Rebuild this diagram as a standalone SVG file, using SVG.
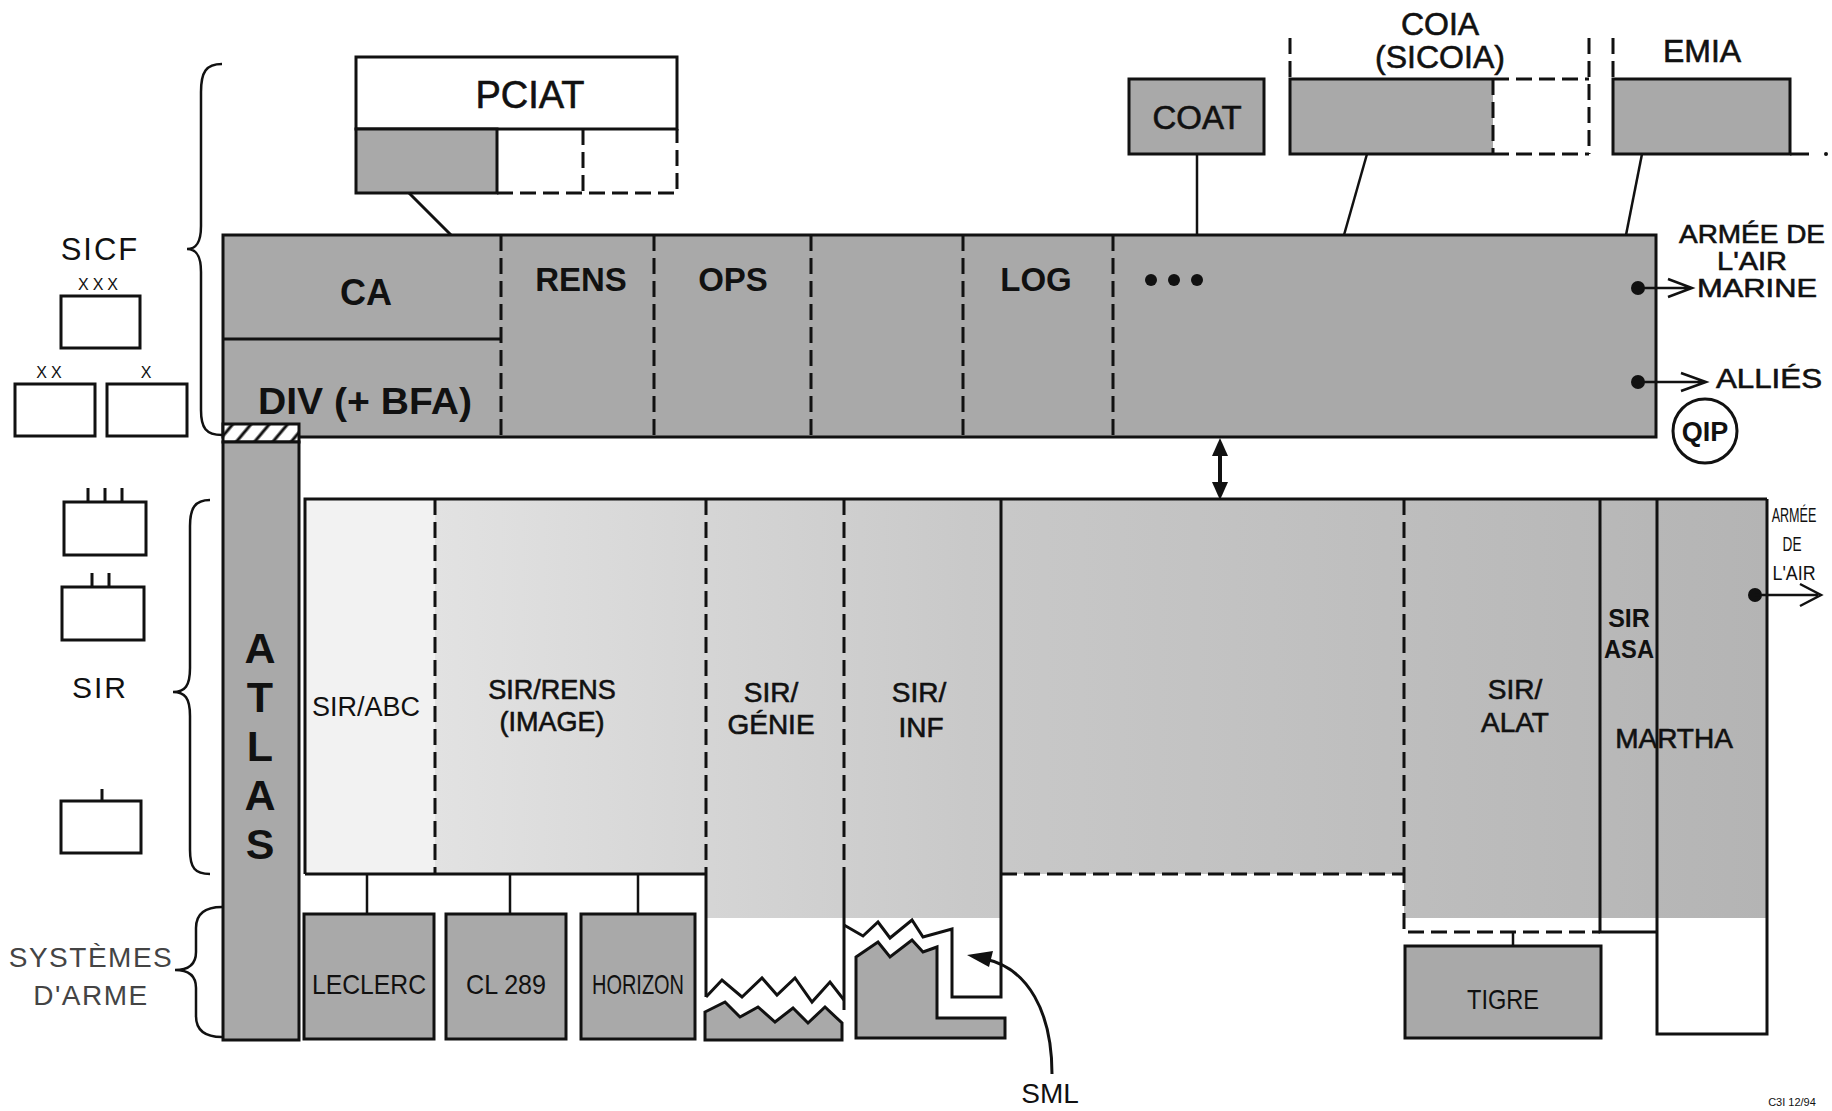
<svg xmlns="http://www.w3.org/2000/svg" width="1832" height="1111" viewBox="0 0 1832 1111">
<style>
.ln{stroke:#111;stroke-width:3;fill:none;stroke-linejoin:miter}
.lt{stroke:#111;stroke-width:2.5;fill:none}
.dl{stroke:#111;stroke-width:3;fill:none;stroke-dasharray:16 7}
.sh{fill:#a9a9a9;stroke:#111;stroke-width:3}
.shf{fill:#a9a9a9}
.t{font-family:"Liberation Sans",Arial,Helvetica,sans-serif;fill:#111;text-anchor:middle}
.b{font-weight:bold}
.m{stroke:#111;stroke-width:0.6}
.br{stroke:#111;stroke-width:2.5;fill:none}
.ic{fill:#fff;stroke:#111;stroke-width:3}
.g{fill:#444}
</style>
<defs>
<linearGradient id="sirg" x1="435" y1="0" x2="1767" y2="0" gradientUnits="userSpaceOnUse">
<stop offset="0" stop-color="#e2e2e2"/>
<stop offset="0.4" stop-color="#c9c9c9"/>
<stop offset="1" stop-color="#b4b4b4"/>
</linearGradient>
<pattern id="hatch" width="14" height="14" patternUnits="userSpaceOnUse" patternTransform="rotate(40)">
<rect width="14" height="14" fill="#fff"/>
<line x1="3" y1="0" x2="3" y2="14" stroke="#111" stroke-width="3"/>
</pattern>
</defs>
<rect width="1832" height="1111" fill="#fff"/>

<!-- Legend -->
<g id="legend-sicf">
<path class="br" d="M222,64 C206,64 201,72 201,92 L201,226 C201,243 196,249 187,249 C196,249 201,255 201,272 L201,410 C201,428 206,435 222,435"/>
<text class="t" x="100" y="260" font-size="31" letter-spacing="2">SICF</text>
<text class="t" x="100" y="290" font-size="16" letter-spacing="4">XXX</text>
<rect class="ic" x="61" y="296" width="79" height="52"/>
<text class="t" x="51" y="378" font-size="16" letter-spacing="4">XX</text>
<rect class="ic" x="15" y="384" width="80" height="52"/>
<text class="t" x="146" y="378" font-size="16">X</text>
<rect class="ic" x="107" y="384" width="80" height="52"/>
</g>
<g id="legend-sir">
<path class="br" d="M210,500 C195,500 190,508 190,526 L190,668 C190,686 185,692 173,692 C185,692 190,698 190,716 L190,850 C190,868 195,874 210,874"/>
<text class="t" x="100" y="698" font-size="30" letter-spacing="2">SIR</text>
<rect class="ic" x="64" y="502" width="82" height="53"/>
<path class="ln" d="M88,488V502M105,488V502M122,488V502"/>
<rect class="ic" x="62" y="587" width="82" height="53"/>
<path class="ln" d="M92,573V587M109,573V587"/>
<rect class="ic" x="61" y="801" width="80" height="52"/>
<path class="ln" d="M102,789V801"/>
</g>
<g id="legend-systemes">
<path class="br" d="M222,907 C208,907 196,912 196,928 L196,952 C196,965 188,970 175,970 C188,970 196,975 196,988 L196,1016 C196,1032 208,1037 222,1037"/>
<text class="t g" x="91" y="967" font-size="28" letter-spacing="1.5">SYSTÈMES</text>
<text class="t g" x="91" y="1005" font-size="28" letter-spacing="1.5">D'ARME</text>
</g>

<!-- PCIAT -->
<g id="pciat">
<rect class="ln" x="356" y="57" width="321" height="72" fill="#fff"/>
<rect class="sh" x="356" y="129" width="141" height="64"/>
<path class="dl" d="M497,193H677V129M583,129V193"/>
<text class="t m" x="530" y="108" font-size="38">PCIAT</text>
</g>

<!-- COAT -->
<g id="coat">
<rect class="sh" x="1129" y="79" width="135" height="75"/>
<text class="t m" x="1197" y="129" font-size="33">COAT</text>
</g>

<!-- COIA -->
<g id="coia">
<text class="t m" x="1440" y="35" font-size="32">COIA</text>
<text class="t m" x="1440" y="68" font-size="32">(SICOIA)</text>
<rect class="shf" x="1290" y="79" width="203" height="75"/>
<path class="ln" d="M1493,79H1290V154H1493"/>
<path class="dl" d="M1290,38V79M1493,79V154M1493,79H1589M1493,154H1589M1589,38V154"/>
</g>

<!-- EMIA -->
<g id="emia">
<text class="t m" x="1702" y="62" font-size="32">EMIA</text>
<rect class="sh" x="1613" y="79" width="177" height="75"/>
<path class="ln" d="M1790,154H1809"/>
<circle cx="1826" cy="154" r="2" fill="#111"/>
<path class="dl" d="M1613,38V79"/>
</g>

<!-- SICF main bar -->
<g id="sicf-bar">
<rect class="sh" x="223" y="235" width="1433" height="202"/>
<path class="ln" d="M223,339H501"/>
<path class="dl" d="M501,235V437M654,235V437M811,235V437M963,235V437M1113,235V437"/>
<text class="t b" x="366" y="305" font-size="36">CA</text>
<text class="t b" x="365" y="414" font-size="36" textLength="214" lengthAdjust="spacingAndGlyphs">DIV (+ BFA)</text>
<text class="t b" x="581" y="291" font-size="33">RENS</text>
<text class="t b" x="733" y="291" font-size="33">OPS</text>
<text class="t b" x="1036" y="291" font-size="33">LOG</text>
<circle cx="1151" cy="280" r="6" fill="#111"/>
<circle cx="1174" cy="280" r="6" fill="#111"/>
<circle cx="1197" cy="280" r="6" fill="#111"/>
</g>

<g id="ext-sicf">
<text class="t m" x="1752" y="243" font-size="26" textLength="146" lengthAdjust="spacingAndGlyphs">ARMÉE DE</text>
<text class="t m" x="1752" y="270" font-size="26" textLength="70" lengthAdjust="spacingAndGlyphs">L'AIR</text>
<text class="t m" x="1757" y="297" font-size="26" textLength="120" lengthAdjust="spacingAndGlyphs">MARINE</text>
<text class="t m" x="1769" y="388" font-size="28" textLength="106" lengthAdjust="spacingAndGlyphs">ALLIÉS</text>
</g>

<g id="qip">
<circle cx="1705" cy="431" r="32" fill="#fff" stroke="#111" stroke-width="3"/>
<text class="t b" x="1705" y="441" font-size="27">QIP</text>
</g>

<!-- ATLAS -->
<g id="atlas">
<rect x="223" y="424" width="76" height="18" fill="url(#hatch)" stroke="#111" stroke-width="3"/>
<rect class="sh" x="223" y="442" width="76" height="598"/>
<text class="t b" x="260" y="663" font-size="43">A</text>
<text class="t b" x="260" y="712" font-size="43">T</text>
<text class="t b" x="260" y="761" font-size="43">L</text>
<text class="t b" x="260" y="810" font-size="43">A</text>
<text class="t b" x="260" y="859" font-size="43">S</text>
</g>

<!-- SIR block -->
<g id="sir">
<rect x="305" y="499" width="130" height="375" fill="#f2f2f2"/>
<path d="M435,499H1767V918H1404V874H1001V918H706V874H435Z" fill="url(#sirg)"/>
<path class="ln" d="M305,874V499H1767M305,874H706"/>
<path class="dl" d="M435,499V874M706,499V874M844,499V874M1001,874H1404M1404,499V932H1600"/>
<path class="ln" d="M706,874V997M844,874V1010M1600,499V932H1657M1657,499V1034H1767V499"/>
<path class="ln" d="M1001,499V997H952V929L923,937L912,920L890,938L878,922L863,936L844,925"/>
<polyline class="ln" points="706,997 722,980 742,997 762,978 777,995 795,978 812,1002 830,982 844,1000"/>
<polygon class="sh" points="705,1012 725,1002 740,1017 758,1007 775,1022 793,1008 808,1023 825,1007 842,1023 842,1040 705,1040"/>
<polygon class="sh" points="856,957 878,942 890,957 912,940 923,952 937,947 937,1018 1005,1018 1005,1038 856,1038"/>
</g>
<g id="sir-labels">
<text class="t" x="366" y="716" font-size="27">SIR/ABC</text>
<text class="t m" x="552" y="699" font-size="27">SIR/RENS</text>
<text class="t m" x="552" y="731" font-size="27">(IMAGE)</text>
<text class="t m" x="771" y="702" font-size="28">SIR/</text>
<text class="t m" x="771" y="734" font-size="28">GÉNIE</text>
<text class="t m" x="919" y="702" font-size="28">SIR/</text>
<text class="t m" x="921" y="737" font-size="28">INF</text>
<text class="t m" x="1515" y="699" font-size="28">SIR/</text>
<text class="t m" x="1515" y="732" font-size="28">ALAT</text>
<text class="t b" x="1629" y="627" font-size="25">SIR</text>
<text class="t b" x="1629" y="658" font-size="25" textLength="50" lengthAdjust="spacingAndGlyphs">ASA</text>
<text class="t m" x="1674" y="748" font-size="28">MARTHA</text>
</g>
<g id="ext-sir">
<text class="t" transform="translate(1794,522) scale(0.6,1)" font-size="21">ARMÉE</text>
<text class="t" transform="translate(1792,551) scale(0.65,1)" font-size="21">DE</text>
<text class="t" transform="translate(1794,580) scale(0.85,1)" font-size="21">L'AIR</text>
</g>

<!-- Weapon systems -->
<g id="leclerc">
<rect class="sh" x="304" y="914" width="130" height="125"/>
<text class="t" x="369" y="994" font-size="28" textLength="114" lengthAdjust="spacingAndGlyphs">LECLERC</text>
</g>
<g id="cl289">
<rect class="sh" x="446" y="914" width="120" height="125"/>
<text class="t" x="506" y="994" font-size="28" textLength="80" lengthAdjust="spacingAndGlyphs">CL 289</text>
</g>
<g id="horizon">
<rect class="sh" x="581" y="914" width="114" height="125"/>
<text class="t" x="638" y="994" font-size="28" textLength="92" lengthAdjust="spacingAndGlyphs">HORIZON</text>
</g>
<g id="tigre">
<rect class="sh" x="1405" y="946" width="196" height="92"/>
<text class="t" x="1503" y="1009" font-size="28" textLength="72" lengthAdjust="spacingAndGlyphs">TIGRE</text>
</g>
<g id="sml">
<text class="t" x="1050" y="1103" font-size="28">SML</text>
</g>
<g id="ref">
<text class="t" x="1792" y="1106" font-size="11">C3I 12/94</text>
</g>

<!-- Connectors -->
<g id="connectors">
<path class="ln" d="M409,193L451,235"/>
<path class="lt" d="M1197,154V235"/>
<path class="lt" d="M1367,154L1344,235"/>
<path class="lt" d="M1642,154L1626,235"/>
<path d="M1220,448V490" stroke="#111" stroke-width="4"/>
<polygon points="1220,438 1212,456 1228,456" fill="#111"/>
<polygon points="1220,500 1212,482 1228,482" fill="#111"/>
<path class="lt" d="M367,874V914M510,874V914M638,874V914M1513,932V946"/>
<circle cx="1638" cy="288" r="7" fill="#111"/>
<path class="lt" d="M1638,288H1690M1668,279L1692,288L1668,297"/>
<circle cx="1638" cy="382" r="7" fill="#111"/>
<path class="lt" d="M1638,382H1704M1681,373L1706,382L1681,391"/>
<circle cx="1755" cy="595" r="7" fill="#111"/>
<path class="lt" d="M1755,595H1818M1800,584L1821,595L1800,606"/>
<path class="ln" d="M1052,1074C1052,1012 1028,968 985,959"/>
<polygon points="967,955 993,951 989,967" fill="#111"/>
</g>
</svg>
